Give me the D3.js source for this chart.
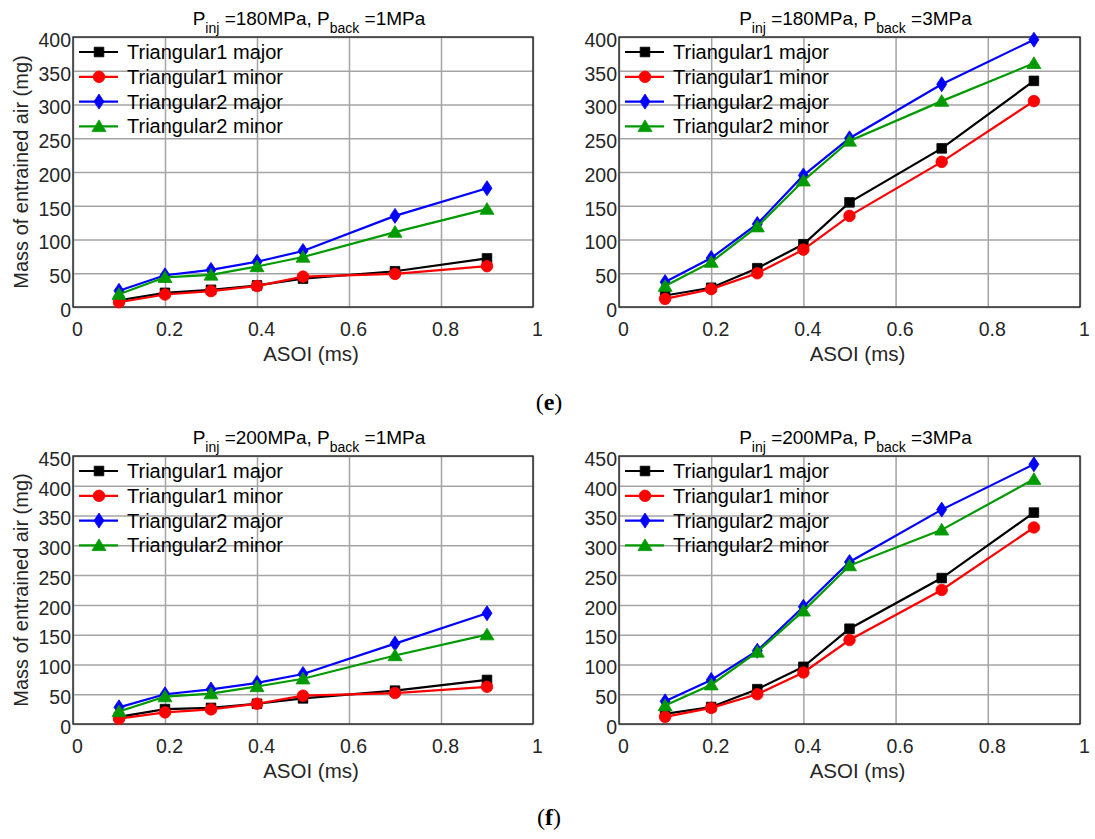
<!DOCTYPE html>
<html>
<head>
<meta charset="utf-8">
<script src="https://cdn.jsdelivr.net/npm/d3@7"></script>
<style>
  body { margin: 0; background: #fff; }
  svg { display: block; font-family: "Liberation Sans", Arial, sans-serif; }
</style>
</head>
<body>
<svg id="chart" width="1095" height="839"></svg>
<script>
// ---------- data ----------
const asoi = [0.1, 0.2, 0.3, 0.4, 0.5, 0.7, 0.9];
const seriesNames = ["Triangular1 major", "Triangular1 minor", "Triangular2 major", "Triangular2 minor"];
const seriesColors = ["#000000", "#ff0000", "#0000ff", "#009a00"];
const seriesMarkers = ["square", "circle", "diamond", "triangle"];
const xTicks = [0, 0.2, 0.4, 0.6, 0.8, 1];
const xTickLabels = ["0", "0.2", "0.4", "0.6", "0.8", "1"];

// Pinj = 180 MPa, Pback = 1 MPa
const p180b1_tri1Major = [10, 21, 25.5, 32, 42, 53, 72];
const p180b1_tri1Minor = [7, 18.5, 23.5, 31, 45, 49, 60.5];
const p180b1_tri2Major = [24, 47, 55, 67, 83, 135, 176];
const p180b1_tri2Minor = [19, 44, 47.5, 60, 74, 111, 145];
// Pinj = 180 MPa, Pback = 3 MPa
const p180b3_tri1Major = [17, 28.5, 57.5, 93, 155, 235, 335];
const p180b3_tri1Minor = [12, 26.5, 50, 85, 135, 215, 305];
const p180b3_tri2Major = [37, 72.5, 123, 195, 250, 330, 396];
const p180b3_tri2Minor = [31, 66.5, 119, 187, 246, 305, 361];
// Pinj = 200 MPa, Pback = 1 MPa
const p200b1_tri1Major = [12, 25, 27, 34, 43, 56, 74];
const p200b1_tri1Minor = [9, 19.5, 24.5, 34, 47.5, 52, 62.5];
const p200b1_tri2Major = [28, 50, 58, 69, 84, 135, 186];
const p200b1_tri2Minor = [21, 46, 51, 63, 76, 115, 150];
// Pinj = 200 MPa, Pback = 3 MPa
const p200b3_tri1Major = [17, 28.5, 58.5, 96, 160, 245, 355];
const p200b3_tri1Minor = [12, 27, 50, 86.5, 141, 225, 330];
const p200b3_tri2Major = [38, 74, 123, 197, 272, 360, 436];
const p200b3_tri2Minor = [31, 66, 121, 190, 266, 326, 411];

const yTicks400 = [0, 50, 100, 150, 200, 250, 300, 350, 400];
const yTicks450 = [0, 50, 100, 150, 200, 250, 300, 350, 400, 450];

const panels = [
  { inj: "180", back: "1", yMax: 400, yTicks: yTicks400, showYLabel: true,
    series: [p180b1_tri1Major, p180b1_tri1Minor, p180b1_tri2Major, p180b1_tri2Minor],
    left: 73, right: 533, top: 37, bottom: 307 },
  { inj: "180", back: "3", yMax: 400, yTicks: yTicks400, showYLabel: false,
    series: [p180b3_tri1Major, p180b3_tri1Minor, p180b3_tri2Major, p180b3_tri2Minor],
    left: 619, right: 1080, top: 37, bottom: 307 },
  { inj: "200", back: "1", yMax: 450, yTicks: yTicks450, showYLabel: true,
    series: [p200b1_tri1Major, p200b1_tri1Minor, p200b1_tri2Major, p200b1_tri2Minor],
    left: 73, right: 533, top: 456, bottom: 724 },
  { inj: "200", back: "3", yMax: 450, yTicks: yTicks450, showYLabel: false,
    series: [p200b3_tri1Major, p200b3_tri1Minor, p200b3_tri2Major, p200b3_tri2Minor],
    left: 619, right: 1080, top: 456, bottom: 724 }
];

// ---------- drawing ----------
const svg = d3.select("#chart");
const textColor = "#262626";
const gridColor = "#a4a4a4";

function markerPath(type) {
  if (type === "square") return "M-4.8,-4.8H4.8V4.8H-4.8Z";
  if (type === "circle") return d3.symbol(d3.symbolCircle, 105)();
  if (type === "diamond") return "M0,-7.5L5,0L0,7.5L-5,0Z";
  if (type === "triangle") return "M0,-6.5L7,5.2L-7,5.2Z";
}

panels.forEach(p => {
  const g = svg.append("g");
  const x = d3.scaleLinear().domain([0, 1]).range([p.left, p.right]);
  const y = d3.scaleLinear().domain([0, p.yMax]).range([p.bottom, p.top]);

  // grid
  const xg = g.append("g").attr("transform", `translate(0,${p.bottom})`)
    .call(d3.axisBottom(x).tickValues(xTicks).tickSize(-(p.bottom - p.top)).tickFormat(""));
  const yg = g.append("g").attr("transform", `translate(${p.left},0)`)
    .call(d3.axisLeft(y).tickValues(p.yTicks).tickSize(-(p.right - p.left)).tickFormat(""));
  [xg, yg].forEach(a => {
    a.select(".domain").remove();
    a.selectAll(".tick line").attr("stroke", gridColor).attr("stroke-width", 1.5);
  });

  // box
  g.append("rect").attr("x", p.left).attr("y", p.top)
    .attr("width", p.right - p.left).attr("height", p.bottom - p.top)
    .attr("fill", "none").attr("stroke", textColor).attr("stroke-width", 1.4);

  // tick labels
  const xl = g.append("g").attr("transform", `translate(4,${p.bottom})`)
    .call(d3.axisBottom(x).tickValues(xTicks).tickSize(0).tickPadding(15)
      .tickFormat((d, i) => xTickLabels[i]));
  const yl = g.append("g").attr("transform", `translate(${p.left - 1},3)`)
    .call(d3.axisLeft(y).tickValues(p.yTicks).tickSize(0).tickPadding(1)
      .tickFormat(d3.format("d")));
  [xl, yl].forEach(a => {
    a.select(".domain").remove();
    a.selectAll("text").attr("fill", textColor).style("font-size", "19.5px")
      .style("font-family", '"Liberation Sans", Arial, sans-serif');
  });

  // axis labels
  const cx = (p.left + p.right) / 2;
  g.append("text").attr("x", cx + 8).attr("y", p.bottom + 54)
    .attr("text-anchor", "middle").attr("fill", textColor).style("font-size", "20.5px")
    .text("ASOI (ms)");
  if (p.showYLabel) {
    g.append("text")
      .attr("transform", `translate(28,${(p.top + p.bottom) / 2}) rotate(-90)`)
      .attr("text-anchor", "middle").attr("fill", textColor).style("font-size", "20px")
      .text("Mass of entrained air (mg)");
  }

  // title
  const t = g.append("text").attr("x", cx + 6).attr("y", p.top - 12)
    .attr("text-anchor", "middle").attr("fill", "#000").style("font-size", "19px");
  t.append("tspan").text("P");
  t.append("tspan").attr("dy", 8).style("font-size", "14px").text("inj");
  t.append("tspan").attr("dy", -8).text(` =${p.inj}MPa, P`);
  t.append("tspan").attr("dy", 8).style("font-size", "14px").text("back");
  t.append("tspan").attr("dy", -8).text(` =${p.back}MPa`);

  // series
  const line = d3.line().x((d, i) => x(asoi[i])).y(d => y(d));
  p.series.forEach((vals, si) => {
    g.append("path").datum(vals).attr("d", line)
      .attr("fill", "none").attr("stroke", seriesColors[si]).attr("stroke-width", 2.2);
    g.selectAll(null).data(vals).enter().append("path")
      .attr("transform", (d, i) => `translate(${x(asoi[i])},${y(d)})`)
      .attr("d", markerPath(seriesMarkers[si]))
      .attr("fill", seriesColors[si]).attr("stroke", seriesColors[si]).attr("stroke-width", 0.8);
  });

  // legend
  const lg = g.append("g");
  seriesNames.forEach((name, si) => {
    const ly = p.top + 15 + si * 24.8;
    lg.append("line").attr("x1", p.left + 6).attr("x2", p.left + 45)
      .attr("y1", ly).attr("y2", ly).attr("stroke", seriesColors[si]).attr("stroke-width", 2.2);
    lg.append("path").attr("transform", `translate(${p.left + 26},${ly})`)
      .attr("d", markerPath(seriesMarkers[si]))
      .attr("fill", seriesColors[si]).attr("stroke", seriesColors[si]).attr("stroke-width", 0.8);
    lg.append("text").attr("x", p.left + 54).attr("y", ly + 7)
      .attr("fill", "#000").style("font-size", "20px").text(name);
  });
});

// sub-figure labels
[["e", 402], ["f", 817]].forEach(([lab, yy]) => {
  const t = svg.append("text").attr("x", 549).attr("y", yy + 8).attr("text-anchor", "middle")
    .style("font-family", '"Liberation Serif", "Times New Roman", serif').style("font-size", "24px")
    .attr("fill", "#000");
  t.append("tspan").text("(");
  t.append("tspan").style("font-weight", "bold").text(lab);
  t.append("tspan").text(")");
});
</script>
</body>
</html>
